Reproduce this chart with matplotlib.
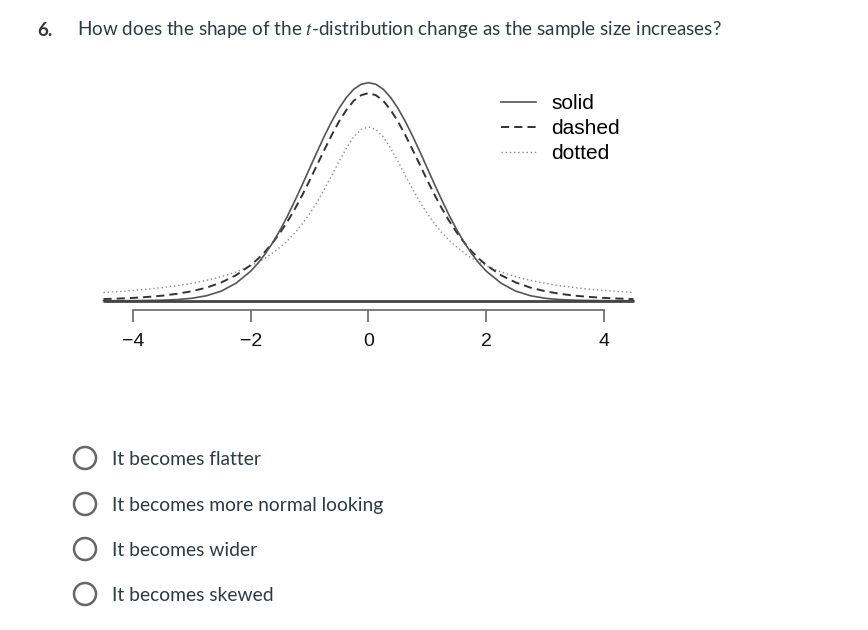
import numpy as np
import matplotlib
matplotlib.use("Agg")
from matplotlib import pyplot as plt
from matplotlib.patches import Ellipse

# densities for x >= 0 (the curves are symmetric)
x_half = [0.0, 0.125, 0.25, 0.375, 0.5, 0.625, 0.75, 0.875, 1.0, 1.125, 1.25, 1.375,
          1.5, 1.625, 1.75, 1.875, 2.0, 2.25, 2.5, 2.75, 3.0, 3.25, 3.5, 3.75, 4.0, 4.25, 4.5]
solid_half = [0.399, 0.396, 0.387, 0.372, 0.352, 0.328, 0.301, 0.272, 0.242, 0.212, 0.183, 0.155,
              0.1295, 0.1065, 0.0863, 0.0688, 0.054, 0.032, 0.0175, 0.0091, 0.0044, 0.0020,
              0.0009, 0.0004, 0.0001, 0.0, 0.0]
dashed_half = [0.380, 0.376, 0.366, 0.349, 0.328, 0.303, 0.276, 0.248, 0.220, 0.193, 0.168, 0.145,
               0.1245, 0.1064, 0.0905, 0.0768, 0.0651, 0.0466, 0.0333, 0.0239, 0.0173, 0.0126,
               0.0092, 0.0069, 0.0051, 0.0039, 0.0030]
dotted_half = [0.318, 0.3134, 0.300, 0.279, 0.255, 0.229, 0.204, 0.180, 0.159, 0.1405, 0.124, 0.110,
               0.098, 0.0874, 0.078, 0.0705, 0.064, 0.0525, 0.0439, 0.0372, 0.0318, 0.0275,
               0.0240, 0.0211, 0.0187, 0.0167, 0.0150]

tick_vals = [-4, -2, 0, 2, 4]
tick_labels = ["\u22124", "\u22122", "0", "2", "4"]
legend_labels = ["solid", "dashed", "dotted"]

question_num = "6."
question = "How does the shape of the $t$-distribution change as the sample size increases?"
options = ["It becomes flatter", "It becomes more normal looking",
           "It becomes wider", "It becomes skewed"]


def mirror(vals):
    return np.concatenate([vals[:0:-1], vals])


xs = np.concatenate([-np.array(x_half[:0:-1]), np.array(x_half)])
ys_solid = mirror(np.array(solid_half))
ys_dashed = mirror(np.array(dashed_half))
ys_dotted = mirror(np.array(dotted_half))

W, H = 868, 630
fig = plt.figure(figsize=(W / 100, H / 100), dpi=100)
plt.rcParams['mathtext.fontset'] = 'stix'

# axes placed in pixels: 1 unit x = 58.9 px, 0 at x=368.5 ; 1 unit y = 546.5 px, 0 at y=300.7
ax_left, ax_right, ax_top, ax_bot = 90, 647, 60, 300.7
ax = fig.add_axes([ax_left / W, 1 - ax_bot / H, (ax_right - ax_left) / W, (ax_bot - ax_top) / H])
ax.set_xlim((ax_left - 368.5) / 58.9, (ax_right - 368.5) / 58.9)
ax.set_ylim(0, (ax_bot - ax_top) / 546.5)

ax.plot(xs, ys_dotted, color="#8a8a8a", lw=1.0, linestyle=(0, (1, 2)), label=legend_labels[2], clip_on=False)
ax.plot(xs, ys_dashed, color="#333333", lw=1.4, linestyle=(0, (4.2, 2.6)), label=legend_labels[1], clip_on=False)
ax.plot(xs, ys_solid, color="#555555", lw=1.2, label=legend_labels[0], clip_on=False)
ax.hlines(0, xs[0], xs[-1], color="#444444", lw=2.0, clip_on=False)

for s in ["top", "right", "left"]:
    ax.spines[s].set_visible(False)
ax.spines["bottom"].set_bounds(-4, 4)
ax.spines["bottom"].set_position(("outward", 6.8))
ax.spines["bottom"].set_color("#666666")
ax.spines["bottom"].set_linewidth(1.2)
ax.set_yticks([])
ax.set_xticks(tick_vals)
ax.set_xticklabels(tick_labels, fontfamily="Liberation Sans", fontsize=14, color="#111111")
ax.tick_params(axis="x", direction="out", length=8.5, width=1.2, color="#666666", pad=8)

handles, labels = ax.get_legend_handles_labels()
order = [2, 1, 0]
ax.legend([handles[i] for i in order], [labels[i] for i in order],
          loc="upper left", bbox_to_anchor=(491 / W, 1 - 84 / H), bbox_transform=fig.transFigure,
          frameon=False, prop={"family": "Liberation Sans", "size": 15},
          handlelength=1.65, handletextpad=0.75, labelspacing=0.28, borderpad=0)

# question text
fig.text(37 / W, 1 - 30 / H, question_num, fontfamily="Lato", fontweight="bold",
         fontsize=13.5, color="#2d3b45", va="center")
fig.text(77 / W, 1 - 30 / H, question, fontfamily="Lato", fontsize=13.6,
         color="#2d3b45", va="center")

# answer options
opt_y = [458, 504, 549, 594]
for y, txt in zip(opt_y, options):
    fig.add_artist(Ellipse((85 / W, 1 - y / H), 22 / W, 22 / H, transform=fig.transFigure,
                           fill=False, edgecolor="#666666", lw=1.8))
    fig.text(112 / W, 1 - (y + 1.5) / H, txt, fontfamily="Lato", fontsize=13.9,
             color="#2d3b45", va="center")

fig.savefig("out.png", dpi=100)
